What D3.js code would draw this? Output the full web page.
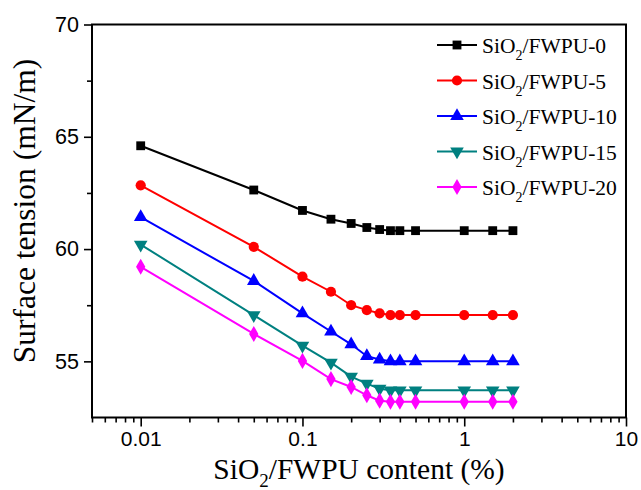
<!DOCTYPE html>
<html>
<head>
<meta charset="utf-8">
<script src="https://cdn.jsdelivr.net/npm/d3@7"></script>
<style>
  html, body { margin: 0; padding: 0; background: #fff; }
  svg { display: block; }
</style>
</head>
<body>
<svg id="chart" width="641" height="490"></svg>
<script>
// ---- data ----
const contents = [0.01, 0.05, 0.1, 0.15, 0.2, 0.25, 0.3, 0.35, 0.4, 0.5, 1, 1.5, 2];
const seriesNames = ["SiO2/FWPU-0", "SiO2/FWPU-5", "SiO2/FWPU-10", "SiO2/FWPU-15", "SiO2/FWPU-20"];
const fwpu0  = [64.6, 62.63, 61.72, 61.33, 61.14, 60.96, 60.87, 60.82, 60.82, 60.82, 60.82, 60.82, 60.82];
const fwpu5  = [62.84, 60.1, 58.77, 58.1, 57.5, 57.28, 57.14, 57.06, 57.06, 57.06, 57.06, 57.06, 57.06];
const fwpu10 = [61.42, 58.58, 57.14, 56.33, 55.76, 55.23, 55.08, 55.0, 55.0, 55.0, 55.0, 55.0, 55.0];
const fwpu15 = [60.2, 57.06, 55.7, 54.94, 54.32, 54.01, 53.78, 53.71, 53.71, 53.71, 53.71, 53.71, 53.71];
const fwpu20 = [59.21, 56.22, 55.02, 54.21, 53.86, 53.49, 53.25, 53.2, 53.2, 53.2, 53.2, 53.2, 53.2];
const xTickValues = [0.01, 0.1, 1, 10];
const xTickLabels = ["0.01", "0.1", "1", "10"];
const yTickValues = [55, 60, 65, 70];
const yMinorTicks = [57.5, 62.5, 67.5];

// ---- styles ----
const colors = ["#000000", "#ff0000", "#0000ff", "#008080", "#ff00ff"];
const symbols = [d3.symbolSquare, d3.symbolCircle, d3.symbolTriangle, "down", d3.symbolDiamond];
const symSizes = [78, 82, 80, 80, 75];

const svg = d3.select("#chart");
const m = {left: 92, right: 626, top: 24.5, bottom: 417.5};
const x = d3.scaleLog().domain([0.005, 10]).range([m.left, m.right]);
const y = d3.scaleLinear().domain([52.5, 70]).range([m.bottom, m.top]);

const serif = "'Liberation Serif', 'Times New Roman', serif";
const sans = "'Liberation Sans', Arial, sans-serif";

// minor x ticks
const xMinor = [];
[0.001, 0.01, 0.1, 1].forEach(d => { for (let k = 2; k <= 9; k++) { const v = d * k; if (v > 0.005 - 1e-9 && v < 10) xMinor.push(v); } });

// X axis
const xAxis = d3.axisBottom(x).tickValues(xTickValues).tickFormat((d, i) => xTickLabels[i]).tickSize(9).tickPadding(5);
const gx = svg.append("g").attr("transform", `translate(0,${m.bottom})`).call(xAxis);
gx.select(".domain").remove();
gx.selectAll(".tick line").attr("stroke", "#000").attr("stroke-width", 1.6);
gx.selectAll(".tick text").attr("font-family", sans).attr("font-size", 21).attr("fill", "#000").attr("dy", "0.71em");
const xAxisMinor = d3.axisBottom(x).tickValues(xMinor).tickFormat("").tickSize(5);
const gxm = svg.append("g").attr("transform", `translate(0,${m.bottom})`).call(xAxisMinor);
gxm.select(".domain").remove();
gxm.selectAll(".tick line").attr("stroke", "#000").attr("stroke-width", 1.6);

// Y axis
const yAxis = d3.axisLeft(y).tickValues(yTickValues).tickFormat(d3.format("d")).tickSize(8).tickPadding(5);
const gy = svg.append("g").attr("transform", `translate(${m.left},0)`).call(yAxis);
gy.select(".domain").remove();
gy.selectAll(".tick line").attr("stroke", "#000").attr("stroke-width", 1.6);
gy.selectAll(".tick text").attr("font-family", sans).attr("font-size", 21.5).attr("fill", "#000");
const yAxisMinor = d3.axisLeft(y).tickValues(yMinorTicks).tickFormat("").tickSize(5);
const gym = svg.append("g").attr("transform", `translate(${m.left},0)`).call(yAxisMinor);
gym.select(".domain").remove();
gym.selectAll(".tick line").attr("stroke", "#000").attr("stroke-width", 1.6);

// frame
svg.append("rect")
  .attr("x", m.left).attr("y", m.top)
  .attr("width", m.right - m.left).attr("height", m.bottom - m.top)
  .attr("fill", "none").attr("stroke", "#000").attr("stroke-width", 2);

// series
const allSeries = [fwpu0, fwpu5, fwpu10, fwpu15, fwpu20];
const line = d3.line().x(d => x(d[0])).y(d => y(d[1]));
function symPath(i) {
  if (symbols[i] === "down") {
    return d3.symbol().type(d3.symbolTriangle).size(symSizes[i])();
  }
  return d3.symbol().type(symbols[i]).size(symSizes[i])();
}
function symTransform(i, px, py) {
  return symbols[i] === "down" ? `translate(${px},${py}) rotate(180)` : `translate(${px},${py})`;
}
allSeries.forEach((vals, i) => {
  const pts = contents.map((c, j) => [c, vals[j]]);
  const g = svg.append("g");
  g.append("path").datum(pts).attr("d", line).attr("fill", "none").attr("stroke", colors[i]).attr("stroke-width", 2);
  g.selectAll("path.pt").data(pts).enter().append("path")
    .attr("class", "pt")
    .attr("d", symPath(i))
    .attr("transform", d => symTransform(i, x(d[0]), y(d[1])))
    .attr("fill", colors[i]);
});

// legend
const lg = svg.append("g");
const legX0 = 437, legX1 = 477, legTextX = 482, legY0 = 45, legDy = 35.5;
seriesNames.forEach((name, i) => {
  const ly = legY0 + i * legDy;
  lg.append("line").attr("x1", legX0).attr("x2", legX1).attr("y1", ly).attr("y2", ly)
    .attr("stroke", colors[i]).attr("stroke-width", 2);
  lg.append("path").attr("d", symPath(i)).attr("transform", symTransform(i, (legX0 + legX1) / 2, ly)).attr("fill", colors[i]);
  const parts = name.split("2");
  const t = lg.append("text").attr("x", legTextX).attr("y", ly + 8)
    .attr("font-family", serif).attr("font-size", 21.5).attr("fill", "#000");
  t.append("tspan").text(parts[0]);
  t.append("tspan").attr("dy", 7).attr("font-size", 14).text("2");
  t.append("tspan").attr("dy", -7).text(parts.slice(1).join("2"));
});

// axis titles
const xt = svg.append("text").attr("x", (m.left + m.right) / 2).attr("y", 478.5)
  .attr("text-anchor", "middle").attr("font-family", serif).attr("font-size", 29.5).attr("fill", "#000");
xt.append("tspan").text("SiO");
xt.append("tspan").attr("dy", 8).attr("font-size", 19).text("2");
xt.append("tspan").attr("dy", -8).text("/FWPU content (%)");

svg.append("text").attr("transform", "rotate(-90)").attr("x", -211).attr("y", 35)
  .attr("text-anchor", "middle").attr("font-family", serif).attr("font-size", 31.5).attr("fill", "#000")
  .text("Surface tension (mN/m)");
</script>
</body>
</html>
